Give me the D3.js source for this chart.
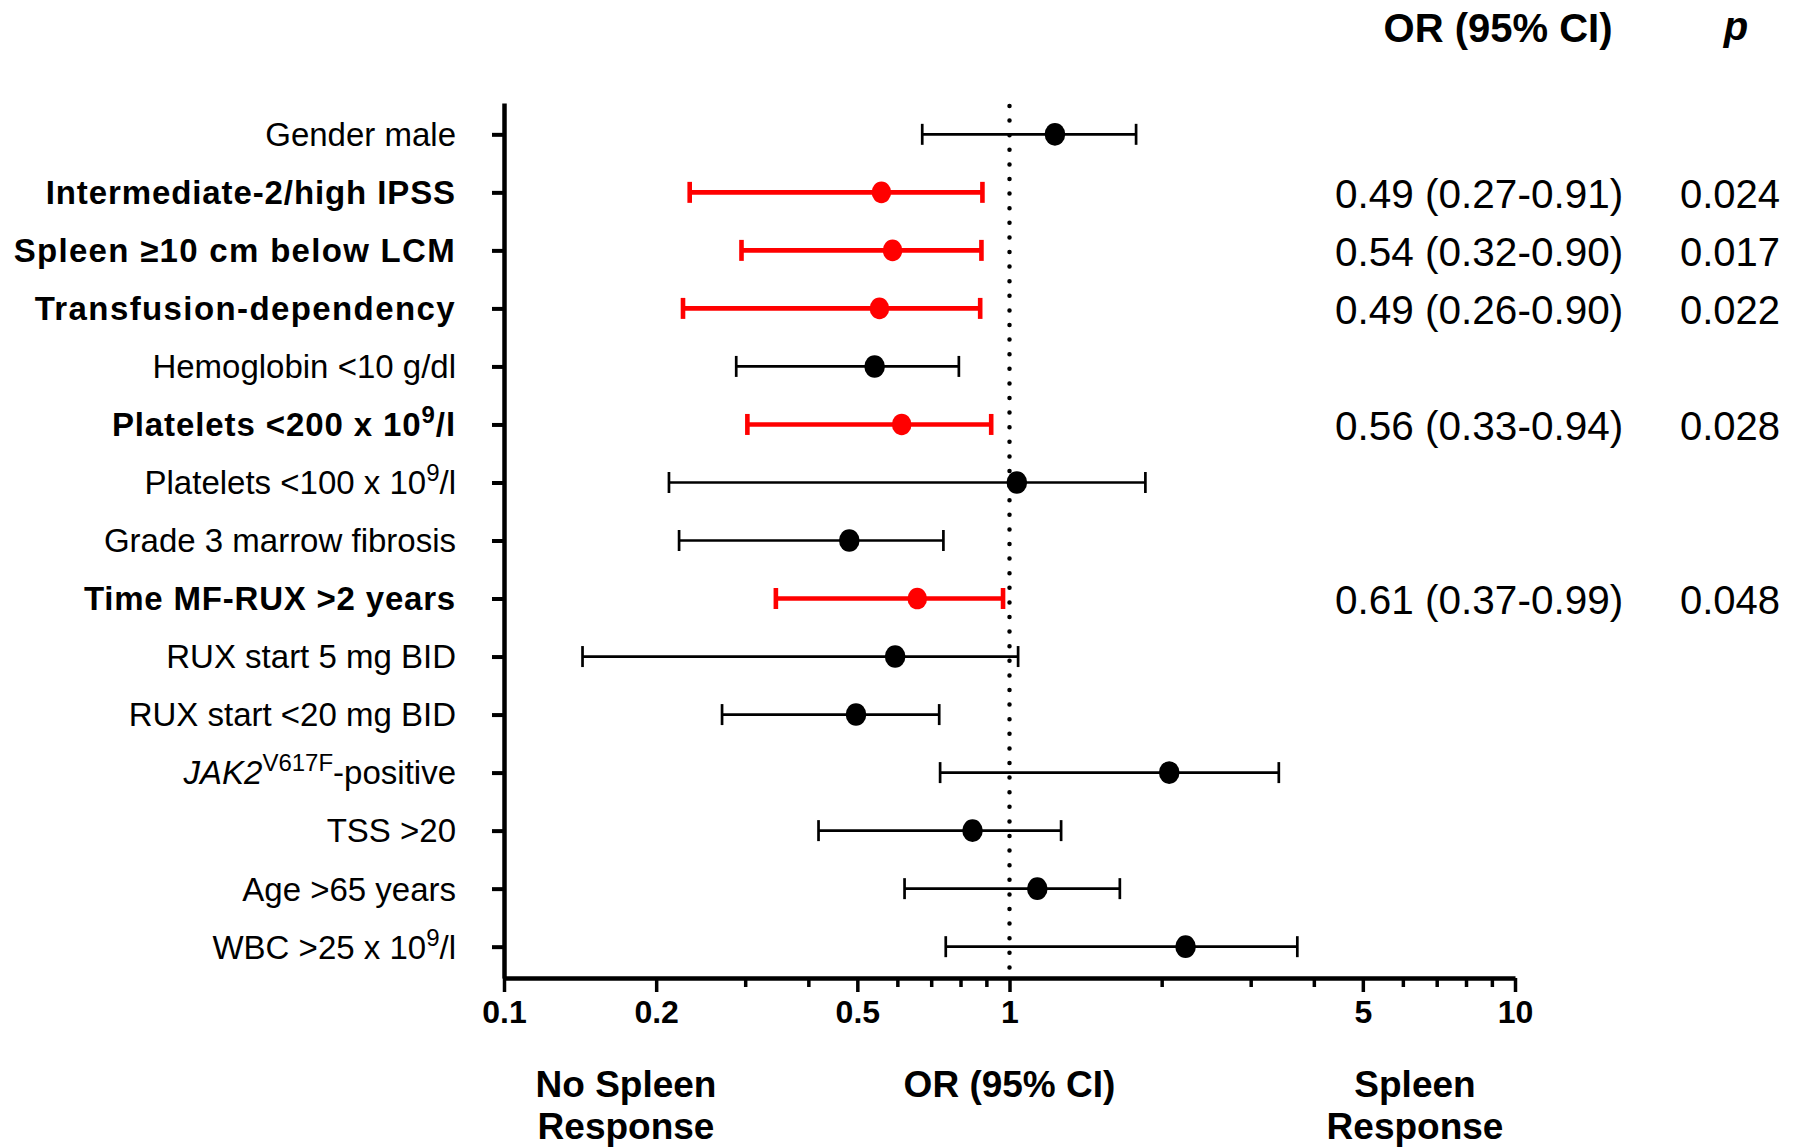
<!DOCTYPE html>
<html>
<head>
<meta charset="utf-8">
<script src="https://cdn.jsdelivr.net/npm/d3@7/dist/d3.min.js"></script>
<style>
  body { margin: 0; background: #fff; }
  svg { display: block; font-family: "Liberation Sans", Arial, sans-serif; }
</style>
</head>
<body>
<svg id="chart" width="1793" height="1148"></svg>
<script>
(function () {
    "use strict";

    // row labels, top to bottom (parts: text, sup, italic)
    var labels = [
        [{t: "Gender male"}],
        [{t: "Intermediate-2/high IPSS"}],
        [{t: "Spleen \u226510 cm below LCM"}],
        [{t: "Transfusion-dependency"}],
        [{t: "Hemoglobin <10 g/dl"}],
        [{t: "Platelets <200 x 10"}, {t: "9", sup: true}, {t: "/l"}],
        [{t: "Platelets <100 x 10"}, {t: "9", sup: true}, {t: "/l"}],
        [{t: "Grade 3 marrow fibrosis"}],
        [{t: "Time MF-RUX >2 years"}],
        [{t: "RUX start 5 mg BID"}],
        [{t: "RUX start <20 mg BID"}],
        [{t: "JAK2", it: true}, {t: "V617F", sup: true}, {t: "-positive"}],
        [{t: "TSS >20"}],
        [{t: "Age >65 years"}],
        [{t: "WBC >25 x 10"}, {t: "9", sup: true}, {t: "/l"}]
    ];
    var significant = [false, true, true, true, false, true, false, false, true, false, false, false, false, false, false];
    var spacing = [0, 0.9, 1.3, 1.4, 0, 0.9, 0, 0, 0.8, 0, 0, 0, 0, 0, 0];

    // plotted odds ratios and 95% CI as drawn
    var orValues = [1.23, 0.558, 0.587, 0.553, 0.541, 0.612, 1.034, 0.482, 0.657, 0.594, 0.497, 2.07, 0.845, 1.135, 2.23];
    var ciLow = [0.672, 0.233, 0.295, 0.226, 0.288, 0.303, 0.212, 0.222, 0.345, 0.143, 0.270, 0.729, 0.419, 0.620, 0.748];
    var ciHigh = [1.78, 0.884, 0.880, 0.875, 0.794, 0.920, 1.857, 0.740, 0.971, 1.040, 0.726, 3.41, 1.265, 1.653, 3.71];

    // table on the right
    var orText = ["", "0.49 (0.27-0.91)", "0.54 (0.32-0.90)", "0.49 (0.26-0.90)", "", "0.56 (0.33-0.94)", "", "", "0.61 (0.37-0.99)", "", "", "", "", "", ""];
    var pText = ["", "0.024", "0.017", "0.022", "", "0.028", "", "", "0.048", "", "", "", "", "", ""];

    var majorTicks = [0.1, 0.2, 0.5, 1, 5, 10];
    var minorTicks = [0.3, 0.4, 0.6, 0.7, 0.8, 0.9, 2, 3, 4, 6, 7, 8, 9];

    var RED = "#ff0000";
    var svg = d3.select("#chart");

    var x = d3.scaleLog().domain([0.1, 10]).range([504, 1515]);
    var rows = d3.range(labels.length);
    var y = d3.scalePoint().domain(rows).range([103, 978]).padding(0.54);
    var axisY = 978;

    // dotted reference line at OR = 1
    svg.append("line")
        .attr("x1", x(1)).attr("x2", x(1))
        .attr("y1", 106).attr("y2", axisY - 4)
        .attr("stroke", "#000")
        .attr("stroke-width", 4.5)
        .attr("stroke-linecap", "round")
        .attr("stroke-dasharray", "0 14.6");

    // x axis: major ticks with labels, minor ticks without
    var gx = svg.append("g").attr("transform", "translate(0," + axisY + ")");
    gx.call(d3.axisBottom(x).tickValues(majorTicks).tickSize(14).tickSizeOuter(0)
        .tickFormat(function (d) { return String(d); }));
    var gxm = svg.append("g").attr("transform", "translate(0," + axisY + ")");
    gxm.call(d3.axisBottom(x).tickValues(minorTicks).tickSize(9).tickSizeOuter(0).tickFormat(""));
    gxm.select(".domain").remove();
    gx.select(".domain").attr("stroke-width", 4.5);
    svg.selectAll("g .tick line").attr("stroke-width", 3.5);
    gx.selectAll(".tick text")
        .attr("y", 22)
        .attr("dy", "0.71em")
        .attr("fill", "#000")
        .style("font-size", "32px")
        .style("font-weight", "bold")
        .style("font-family", "'Liberation Sans', Arial, sans-serif");

    // y axis
    var gy = svg.append("g").attr("transform", "translate(" + x(0.1) + ",0)");
    gy.call(d3.axisLeft(y).tickSize(12).tickSizeOuter(0).tickFormat(""));
    gy.select(".domain").attr("stroke-width", 4.5);
    gy.selectAll(".tick line").attr("stroke-width", 4);

    // row labels
    var lab = svg.append("g").selectAll("text")
        .data(rows)
        .enter().append("text")
        .attr("x", 456)
        .attr("y", function (i) { return y(i); })
        .attr("dy", "0.36em")
        .attr("text-anchor", "end")
        .style("font-size", "33px")
        .style("font-weight", function (i) { return significant[i] ? "bold" : "normal"; })
        .style("letter-spacing", function (i) { return spacing[i] + "px"; });
    lab.each(function (i) {
        var t = d3.select(this);
        labels[i].forEach(function (part) {
            var s = t.append("tspan").text(part.t);
            if (part.sup) {
                s.attr("baseline-shift", "super").style("font-size", "24px");
            }
            if (part.it) {
                s.style("font-style", "italic");
            }
        });
    });

    // error bars
    var bars = svg.append("g").selectAll("g")
        .data(rows)
        .enter().append("g")
        .attr("stroke", function (i) { return significant[i] ? RED : "#000"; })
        .attr("stroke-width", function (i) { return significant[i] ? 4.6 : 2.7; });
    bars.append("line")
        .attr("x1", function (i) { return x(ciLow[i]); })
        .attr("x2", function (i) { return x(ciHigh[i]); })
        .attr("y1", function (i) { return y(i); })
        .attr("y2", function (i) { return y(i); });
    [ciLow, ciHigh].forEach(function (arr) {
        bars.append("line")
            .attr("x1", function (i) { return x(arr[i]); })
            .attr("x2", function (i) { return x(arr[i]); })
            .attr("y1", function (i) { return y(i) - 10.5; })
            .attr("y2", function (i) { return y(i) + 10.5; });
    });

    // points
    svg.append("g").selectAll("ellipse")
        .data(rows)
        .enter().append("ellipse")
        .attr("cx", function (i) { return x(orValues[i]); })
        .attr("cy", function (i) { return y(i); })
        .attr("rx", function (i) { return significant[i] ? 9.8 : 10.3; })
        .attr("ry", function (i) { return significant[i] ? 10.8 : 11.3; })
        .attr("fill", function (i) { return significant[i] ? RED : "#000"; });

    // right table
    svg.append("text")
        .attr("x", 1498).attr("y", 42)
        .attr("text-anchor", "middle")
        .style("font-size", "40px").style("font-weight", "bold")
        .text("OR (95% CI)");
    svg.append("text")
        .attr("x", 1736).attr("y", 40)
        .attr("text-anchor", "middle")
        .style("font-size", "40px").style("font-weight", "bold").style("font-style", "italic")
        .text("p");

    svg.append("g").selectAll("text")
        .data(rows.filter(function (i) { return orText[i] !== ""; }))
        .enter().append("text")
        .attr("x", 1335)
        .attr("y", function (i) { return y(i); })
        .attr("dy", "0.38em")
        .style("font-size", "40.5px")
        .text(function (i) { return orText[i]; });
    svg.append("g").selectAll("text")
        .data(rows.filter(function (i) { return pText[i] !== ""; }))
        .enter().append("text")
        .attr("x", 1680)
        .attr("y", function (i) { return y(i); })
        .attr("dy", "0.38em")
        .style("font-size", "40px")
        .text(function (i) { return pText[i]; });

    // bottom captions
    var captions = [
        {x: 626, lines: ["No Spleen", "Response"]},
        {x: x(1), lines: ["OR (95% CI)"]},
        {x: 1415, lines: ["Spleen", "Response"]}
    ];
    captions.forEach(function (c) {
        var t = svg.append("text")
            .attr("text-anchor", "middle")
            .style("font-size", "37px")
            .style("font-weight", "bold");
        c.lines.forEach(function (line, k) {
            t.append("tspan").attr("x", c.x).attr("y", 1097 + k * 42).text(line);
        });
    });
})();
</script>
</body>
</html>
